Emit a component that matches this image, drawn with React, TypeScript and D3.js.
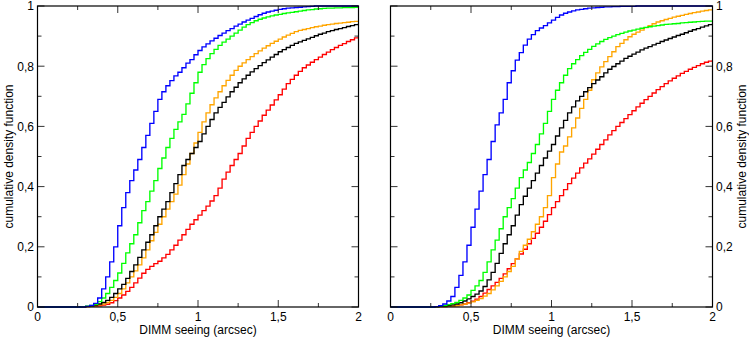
import React from 'react';
import * as d3 from 'd3';

// bin edges of the cumulative histograms (arcsec), 0.025 arcsec bins
const binEdges: number[] = d3.range(81).map((i) => +(i * 0.025).toFixed(3));
const xMajor = [0, 0.5, 1, 1.5, 2];
const xMinor = [0.25, 0.75, 1.25, 1.75];
const yMajor = [0, 0.2, 0.4, 0.6, 0.8, 1];
const yMinor = [0.1, 0.3, 0.5, 0.7, 0.9];
const xTitle = 'DIMM seeing (arcsec)';
const yTitle = 'cumulative density function';

// ---- left panel ----
const leftBlue = [
  0, 0, 0, 0, 0, 0, 0, 0, 0, 0,
  0, 0, 0.002, 0.005, 0.012, 0.03, 0.06, 0.1, 0.15, 0.2,
  0.27, 0.33, 0.38, 0.42, 0.455, 0.49, 0.53, 0.57, 0.61, 0.65,
  0.69, 0.715, 0.735, 0.752, 0.768, 0.78, 0.795, 0.81, 0.822, 0.838,
  0.852, 0.864, 0.874, 0.884, 0.893, 0.902, 0.91, 0.918, 0.925, 0.933,
  0.94, 0.947, 0.953, 0.959, 0.965, 0.971, 0.976, 0.98, 0.983, 0.986,
  0.989, 0.991, 0.993, 0.994, 0.995, 0.996, 0.997, 0.998, 0.999, 1,
  1, 1, 1, 1, 1, 1, 1, 1, 1, 1,
  1,
];
const leftGreen = [
  0, 0, 0, 0, 0, 0, 0, 0, 0, 0,
  0, 0.001, 0.003, 0.005, 0.009, 0.018, 0.03, 0.045, 0.065, 0.088,
  0.113, 0.145, 0.18, 0.21, 0.24, 0.28, 0.32, 0.35, 0.385, 0.42,
  0.46, 0.495, 0.53, 0.56, 0.59, 0.615, 0.64, 0.675, 0.71, 0.745,
  0.78, 0.805, 0.825, 0.842, 0.856, 0.869, 0.88, 0.89, 0.9, 0.91,
  0.92, 0.93, 0.938, 0.945, 0.951, 0.956, 0.96, 0.964, 0.967, 0.97,
  0.972, 0.975, 0.977, 0.979, 0.981, 0.983, 0.985, 0.987, 0.988, 0.99,
  0.991, 0.992, 0.993, 0.993, 0.994, 0.994, 0.995, 0.995, 0.995, 0.996,
  0.996,
];
const leftBlack = [
  0, 0, 0, 0, 0, 0, 0, 0, 0, 0,
  0, 0.001, 0.002, 0.004, 0.006, 0.01, 0.015, 0.022, 0.032, 0.045,
  0.06, 0.075, 0.095, 0.118, 0.14, 0.165, 0.19, 0.215, 0.24, 0.27,
  0.3, 0.325, 0.35, 0.38, 0.41, 0.44, 0.47, 0.49, 0.51, 0.53,
  0.55, 0.575, 0.6, 0.623, 0.645, 0.663, 0.68, 0.698, 0.715, 0.73,
  0.745, 0.758, 0.77, 0.781, 0.792, 0.802, 0.812, 0.821, 0.83, 0.839,
  0.848, 0.855, 0.862, 0.869, 0.876, 0.881, 0.886, 0.891, 0.896, 0.901,
  0.906, 0.91, 0.915, 0.918, 0.922, 0.925, 0.928, 0.932, 0.935, 0.938,
  0.942,
];
const leftOrange = [
  0, 0, 0, 0, 0, 0, 0, 0, 0, 0,
  0, 0, 0.001, 0.002, 0.004, 0.007, 0.01, 0.015, 0.022, 0.032,
  0.045, 0.06, 0.08, 0.1, 0.12, 0.14, 0.163, 0.19, 0.22, 0.248,
  0.275, 0.3, 0.325, 0.35, 0.375, 0.405, 0.44, 0.475, 0.51, 0.545,
  0.58, 0.615, 0.645, 0.672, 0.695, 0.715, 0.735, 0.753, 0.77, 0.786,
  0.8, 0.811, 0.822, 0.832, 0.842, 0.851, 0.86, 0.868, 0.876, 0.883,
  0.89, 0.897, 0.903, 0.909, 0.915, 0.919, 0.922, 0.925, 0.928, 0.931,
  0.933, 0.936, 0.938, 0.94, 0.942, 0.943, 0.945, 0.946, 0.948, 0.949,
  0.95,
];
const leftRed = [
  0, 0, 0, 0, 0, 0, 0, 0, 0, 0,
  0, 0, 0.001, 0.002, 0.003, 0.004, 0.006, 0.009, 0.014, 0.021,
  0.03, 0.04, 0.052, 0.065, 0.08, 0.096, 0.112, 0.125, 0.135, 0.144,
  0.152, 0.163, 0.175, 0.19, 0.205, 0.222, 0.24, 0.258, 0.275, 0.29,
  0.305, 0.32, 0.335, 0.352, 0.37, 0.395, 0.425, 0.448, 0.47, 0.49,
  0.51, 0.535, 0.56, 0.58, 0.6, 0.618, 0.637, 0.654, 0.671, 0.688,
  0.705, 0.724, 0.742, 0.756, 0.77, 0.783, 0.795, 0.804, 0.813, 0.822,
  0.83, 0.839, 0.847, 0.855, 0.862, 0.869, 0.875, 0.882, 0.888, 0.894,
  0.9,
];

// ---- right panel ----
const rightBlue = [
  0, 0, 0, 0, 0, 0, 0, 0, 0, 0,
  0, 0.001, 0.004, 0.01, 0.02, 0.035, 0.065, 0.105, 0.15, 0.205,
  0.265, 0.325, 0.385, 0.44, 0.49, 0.55, 0.605, 0.645, 0.69, 0.745,
  0.785, 0.82, 0.845, 0.87, 0.89, 0.905, 0.918, 0.927, 0.935, 0.944,
  0.953, 0.962, 0.97, 0.976, 0.98, 0.984, 0.987, 0.989, 0.991, 0.993,
  0.994, 0.995, 0.996, 0.997, 0.997, 0.998, 0.998, 0.999, 0.999, 0.999,
  0.999, 1, 1, 1, 1, 1, 1, 1, 1, 1,
  1, 1, 1, 1, 1, 1, 1, 1, 1, 1,
  1,
];
const rightGreen = [
  0, 0, 0, 0, 0, 0, 0, 0, 0, 0,
  0, 0.001, 0.003, 0.005, 0.008, 0.011, 0.015, 0.022, 0.03, 0.04,
  0.055, 0.07, 0.088, 0.115, 0.15, 0.19, 0.222, 0.26, 0.3, 0.33,
  0.36, 0.395, 0.43, 0.455, 0.48, 0.51, 0.54, 0.575, 0.61, 0.65,
  0.69, 0.72, 0.745, 0.77, 0.792, 0.808, 0.822, 0.835, 0.846, 0.856,
  0.866, 0.874, 0.882, 0.889, 0.895, 0.9, 0.905, 0.909, 0.913, 0.917,
  0.92, 0.923, 0.926, 0.929, 0.931, 0.933, 0.935, 0.937, 0.939, 0.94,
  0.941, 0.942, 0.944, 0.945, 0.946, 0.947, 0.948, 0.949, 0.95, 0.95,
  0.951,
];
const rightBlack = [
  0, 0, 0, 0, 0, 0, 0, 0, 0, 0,
  0, 0.001, 0.002, 0.003, 0.005, 0.007, 0.01, 0.014, 0.02, 0.027,
  0.035, 0.043, 0.053, 0.068, 0.09, 0.115, 0.145, 0.178, 0.21, 0.24,
  0.27, 0.305, 0.34, 0.368, 0.395, 0.42, 0.445, 0.47, 0.495, 0.518,
  0.54, 0.568, 0.595, 0.62, 0.645, 0.665, 0.685, 0.7, 0.715, 0.729,
  0.742, 0.754, 0.765, 0.778, 0.79, 0.799, 0.808, 0.817, 0.826, 0.833,
  0.84, 0.847, 0.854, 0.86, 0.865, 0.871, 0.876, 0.882, 0.887, 0.892,
  0.897, 0.902, 0.906, 0.911, 0.916, 0.921, 0.925, 0.93, 0.934, 0.938,
  0.942,
];
const rightOrange = [
  0, 0, 0, 0, 0, 0, 0, 0, 0, 0,
  0, 0, 0.001, 0.001, 0.002, 0.003, 0.005, 0.007, 0.01, 0.013,
  0.017, 0.022, 0.028, 0.036, 0.045, 0.057, 0.07, 0.085, 0.1, 0.118,
  0.135, 0.16, 0.185, 0.205, 0.225, 0.25, 0.275, 0.3, 0.33, 0.37,
  0.43, 0.475, 0.515, 0.535, 0.565, 0.595, 0.628, 0.66, 0.69, 0.72,
  0.755, 0.778, 0.798, 0.815, 0.832, 0.848, 0.865, 0.876, 0.888, 0.898,
  0.906, 0.913, 0.92, 0.928, 0.935, 0.941, 0.947, 0.951, 0.955, 0.959,
  0.963, 0.966, 0.969, 0.972, 0.975, 0.978, 0.98, 0.983, 0.985, 0.987,
  0.989,
];
const rightRed = [
  0, 0, 0, 0, 0, 0, 0, 0, 0, 0,
  0, 0, 0.001, 0.001, 0.002, 0.003, 0.005, 0.007, 0.01, 0.014,
  0.019, 0.026, 0.035, 0.046, 0.058, 0.07, 0.082, 0.095, 0.11, 0.127,
  0.144, 0.16, 0.176, 0.192, 0.21, 0.228, 0.245, 0.265, 0.285, 0.307,
  0.33, 0.35, 0.37, 0.39, 0.41, 0.428, 0.445, 0.462, 0.478, 0.492,
  0.508, 0.524, 0.54, 0.555, 0.572, 0.586, 0.6, 0.613, 0.626, 0.639,
  0.652, 0.665, 0.677, 0.689, 0.7, 0.711, 0.722, 0.732, 0.742, 0.751,
  0.76, 0.768, 0.776, 0.783, 0.79, 0.796, 0.802, 0.808, 0.813, 0.817,
  0.821,
];

const COLOR = {
  red: '#ff0000',
  orange: '#ffa500',
  black: '#000000',
  green: '#00ff00',
  blue: '#0000ff',
};

type Series = { values: number[]; color: string };

const leftSeries: Series[] = [
  { values: leftRed, color: COLOR.red },
  { values: leftOrange, color: COLOR.orange },
  { values: leftBlack, color: COLOR.black },
  { values: leftGreen, color: COLOR.green },
  { values: leftBlue, color: COLOR.blue },
];
const rightSeries: Series[] = [
  { values: rightRed, color: COLOR.red },
  { values: rightOrange, color: COLOR.orange },
  { values: rightBlack, color: COLOR.black },
  { values: rightGreen, color: COLOR.green },
  { values: rightBlue, color: COLOR.blue },
];

const FONT = "'Liberation Sans', Arial, Helvetica, sans-serif";
const fmt = (v: number) => String(v).replace('.', ',');

function Panel({
  left,
  right,
  top,
  bottom,
  series,
  labelSide,
}: {
  left: number;
  right: number;
  top: number;
  bottom: number;
  series: Series[];
  labelSide: 'left' | 'right';
}) {
  const x = d3.scaleLinear().domain([0, 2]).range([left, right]);
  const y = d3.scaleLinear().domain([0, 1]).range([bottom, top]);
  const line = d3
    .line<number>()
    .x((_, i) => x(binEdges[i]))
    .y((d) => y(d))
    .curve(d3.curveStepAfter);
  const MAJ = 7;
  const MIN = 4;
  const tickStroke = '#333';
  const clipId = `clip-${labelSide}`;
  return (
    <g>
      <defs>
        <clipPath id={clipId}>
          <rect x={left} y={top - 2} width={right - left} height={bottom - top + 4} />
        </clipPath>
      </defs>
      <g clipPath={`url(#${clipId})`}>
        {series.map((s, k) => (
          <path key={k} d={line(s.values) || ''} fill="none" stroke={s.color} strokeWidth={1.35} />
        ))}
      </g>
      {xMajor.map((t) => (
        <g key={`xM${t}`} stroke={tickStroke} strokeWidth={1}>
          <line x1={x(t)} x2={x(t)} y1={bottom} y2={bottom - MAJ} />
          <line x1={x(t)} x2={x(t)} y1={top} y2={top + MAJ} />
        </g>
      ))}
      {xMinor.map((t) => (
        <g key={`xm${t}`} stroke={tickStroke} strokeWidth={1}>
          <line x1={x(t)} x2={x(t)} y1={bottom} y2={bottom - MIN} />
          <line x1={x(t)} x2={x(t)} y1={top} y2={top + MIN} />
        </g>
      ))}
      {yMajor.map((t) => (
        <g key={`yM${t}`} stroke={tickStroke} strokeWidth={1}>
          <line x1={left} x2={left + MAJ} y1={y(t)} y2={y(t)} />
          <line x1={right} x2={right - MAJ} y1={y(t)} y2={y(t)} />
        </g>
      ))}
      {yMinor.map((t) => (
        <g key={`ym${t}`} stroke={tickStroke} strokeWidth={1}>
          <line x1={left} x2={left + MIN} y1={y(t)} y2={y(t)} />
          <line x1={right} x2={right - MIN} y1={y(t)} y2={y(t)} />
        </g>
      ))}
      <rect x={left} y={top} width={right - left} height={bottom - top} fill="none" stroke="#000" strokeWidth={1.2} />
      {xMajor.map((t) => (
        <text key={`xl${t}`} x={x(t)} y={bottom + 14} textAnchor="middle" fontSize={12} fontFamily={FONT} fill="#000">
          {fmt(t)}
        </text>
      ))}
      <text x={(left + right) / 2} y={bottom + 26.5} textAnchor="middle" fontSize={12} fontFamily={FONT} fill="#000">
        {xTitle}
      </text>
      {yMajor.map((t) => (
        <text
          key={`yl${t}`}
          x={labelSide === 'left' ? left - 3.5 : right + 3.5}
          y={y(t) + 4.3}
          textAnchor={labelSide === 'left' ? 'end' : 'start'}
          fontSize={12}
          fontFamily={FONT}
          fill="#000"
        >
          {fmt(t)}
        </text>
      ))}
      <text
        transform={`translate(${labelSide === 'left' ? 12.5 : 745.5},${(top + bottom) / 2}) rotate(-90)`}
        textAnchor="middle"
        fontSize={12}
        fontFamily={FONT}
        fill="#000"
      >
        {yTitle}
      </text>
    </g>
  );
}

export default function App() {
  return (
    <svg
      width={749}
      height={338}
      viewBox="0 0 749 338"
      style={{ position: 'absolute', left: 0, top: 0, background: '#fff' }}
    >
      <rect x={0} y={0} width={749} height={338} fill="#fff" />
      <Panel left={37.5} right={358.5} top={6} bottom={307} series={leftSeries} labelSide="left" />
      <Panel left={390.5} right={712.5} top={6} bottom={307} series={rightSeries} labelSide="right" />
    </svg>
  );
}
